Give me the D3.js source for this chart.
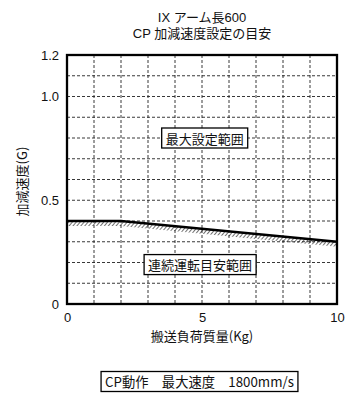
<!DOCTYPE html>
<html>
<head>
<meta charset="utf-8">
<script src="https://cdn.jsdelivr.net/npm/d3@7"></script>
<style>
  body { margin: 0; background: #fff; }
  svg text { font-family: "Noto Sans CJK JP", "Liberation Sans", sans-serif; fill: #111; }
</style>
</head>
<body>
<div id="chart"></div>
<script>
// chart data
var titleLines = ["IX アーム長600", "CP 加減速度設定の目安"];
var xTickValues = [0, 5, 10];
var yTickValues = [0, 0.5, 1.0, 1.2];
var yTickLabels = ["0", "0.5", "1.0", "1.2"];
var xGrid = [1, 2, 3, 4, 5, 6, 7, 8, 9];
var yGrid = [0.1, 0.2, 0.3, 0.4, 0.5, 0.6, 0.7, 0.8, 0.9, 1.0, 1.1];
var loadKg = [0, 2, 10];
var accelG = [0.4, 0.4, 0.3];
var regionLabels = [
  {text: "最大設定範囲", x: 5.1, y: 0.8},
  {text: "連続運転目安範囲", x: 4.93, y: 0.19}
];
var footnote = "CP動作　最大速度　1800mm/s";

var W = 353, H = 410;
var margin = {top: 55, right: 16, bottom: 106, left: 67};
var width = W - margin.left - margin.right,
    height = H - margin.top - margin.bottom;

var svg = d3.select("#chart").append("svg")
    .attr("width", W)
    .attr("height", H);

var defs = svg.append("defs");
var pat = defs.append("pattern")
    .attr("id", "hatch")
    .attr("patternUnits", "userSpaceOnUse")
    .attr("width", 3)
    .attr("height", 3)
    .attr("patternTransform", "rotate(40)");
pat.append("line")
    .attr("x1", 0).attr("y1", 0)
    .attr("x2", 0).attr("y2", 3)
    .style("stroke", "#111")
    .style("stroke-width", 1.2);

var g = svg.append("g")
    .attr("transform", `translate(${margin.left},${margin.top})`);

var x = d3.scaleLinear().domain([0, 10]).range([0, width]);
var y = d3.scaleLinear().domain([0, 1.2]).range([height, 0]);

// title, two lines
svg.selectAll(".title")
    .data(titleLines)
  .enter().append("text")
    .attr("class", "title")
    .attr("x", 202)
    .attr("y", (d, i) => 22 + i * 15.5)
    .attr("text-anchor", "middle")
    .style("font-family", "'Liberation Sans', 'Noto Sans CJK JP', sans-serif")
    .style("font-size", "13px")
    .text(d => d);

// dashed grid
g.append("g")
  .selectAll("line")
  .data(xGrid)
  .enter().append("line")
    .attr("x1", d => x(d)).attr("x2", d => x(d))
    .attr("y1", 0).attr("y2", height)
    .style("stroke", "#222")
    .style("stroke-width", 0.9)
    .style("stroke-dasharray", "3,2");

g.append("g")
  .selectAll("line")
  .data(yGrid)
  .enter().append("line")
    .attr("x1", 0).attr("x2", width)
    .attr("y1", d => y(d)).attr("y2", d => y(d))
    .style("stroke", "#222")
    .style("stroke-width", 0.9)
    .style("stroke-dasharray", "3,2");

// hatched band under the boundary
var pts = loadKg.map((d, i) => [x(d), y(accelG[i])]);
var band = pts.concat(pts.slice().reverse().map(p => [p[0], p[1] + 5]));
g.append("path")
    .attr("d", "M" + band.map(p => p.join(",")).join("L") + "Z")
    .style("fill", "url(#hatch)");

g.append("path")
    .datum(loadKg.map((d, i) => ({x: d, y: accelG[i]})))
    .attr("d", d3.line().x(d => x(d.x)).y(d => y(d.y)))
    .style("fill", "none")
    .style("stroke", "#000")
    .style("stroke-width", 2.5);

// frame
g.append("rect")
    .attr("width", width)
    .attr("height", height)
    .style("fill", "none")
    .style("stroke", "#000")
    .style("stroke-width", 2.3);

// axes
var xAxis = d3.axisBottom(x).tickValues(xTickValues).tickSize(0).tickPadding(9);
var yAxis = d3.axisLeft(y).tickValues(yTickValues).tickSize(0).tickPadding(8)
    .tickFormat((d, i) => yTickLabels[i]);

var gx = g.append("g").attr("transform", `translate(0,${height})`).call(xAxis);
var gy = g.append("g").call(yAxis);
[gx, gy].forEach(a => {
  a.select(".domain").remove();
  a.selectAll("text")
    .style("font-family", "'Liberation Sans', 'Noto Sans CJK JP', sans-serif")
    .style("font-size", "13px")
    .style("fill", "#111");
});

g.append("text")
    .attr("x", width / 2)
    .attr("y", height + 37)
    .attr("text-anchor", "middle")
    .style("font-size", "13px")
    .text("搬送負荷質量(Kg)");

g.append("text")
    .attr("transform", "rotate(-90)")
    .attr("x", -(y(0.59)))
    .attr("y", -40)
    .attr("text-anchor", "middle")
    .style("font-size", "13px")
    .text("加減速度(G)");

// boxed region labels
function boxedLabel(parent, text, cx, cy, size, pad) {
  var t = parent.append("text")
      .attr("x", cx)
      .attr("y", cy)
      .attr("text-anchor", "middle")
      .attr("dominant-baseline", "central")
      .style("font-size", size + "px")
      .text(text);
  var bb = t.node().getBBox();
  parent.insert("rect", "text:last-child")
      .attr("x", bb.x - pad)
      .attr("y", cy - 10)
      .attr("width", bb.width + pad * 2)
      .attr("height", 20)
      .style("fill", "#fff")
      .style("stroke", "#000")
      .style("stroke-width", 1.3);
  t.raise();
}

regionLabels.forEach(d => {
  var lg = g.append("g");
  boxedLabel(lg, d.text, x(d.x), y(d.y), 13, 4);
});

var fg = svg.append("g");
boxedLabel(fg, footnote, 199.5, 381.5, 13.3, 4);
</script>
</body>
</html>
